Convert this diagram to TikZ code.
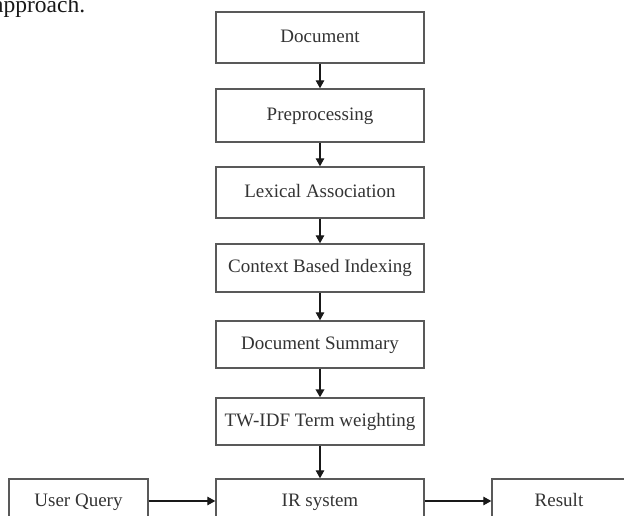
\documentclass[tikz,border=0pt]{standalone}
\usepackage{fontspec}
\setmainfont{Liberation Serif}
\usetikzlibrary{arrows.meta}
\begin{document}
\begin{tikzpicture}[x=1pt,y=-1pt,
  stage/.style={draw=black!65, line width=1.4pt, minimum width=208pt,
    inner sep=0pt, text=black!80, font=\fontsize{19}{21}\selectfont,
    text height=0.95em, text depth=0pt},
  flow/.style={line width=1.3pt, draw=black!90,
    -{Triangle[length=8pt,width=8.5pt]}}]
\useasboundingbox (0,0) rectangle (624,516);
\clip (0,0) rectangle (624,516);

% tail of the preceding sentence
\node[anchor=base west, inner sep=0pt, text=black!90,
  font=\fontsize{23.5}{25}\selectfont] (prev) at (-7,13) {approach.};

% main pipeline
\node[stage, minimum height=51pt] (doc)  at (320,37.5)  {Document};
\node[stage, minimum height=53pt] (pre)  at (320,115.5) {Preprocessing};
\node[stage, minimum height=51pt] (lex)  at (320,192.5) {Lexical Association};
\node[stage, minimum height=48pt] (ctx)  at (320,268)   {Context Based Indexing};
\node[stage, minimum height=47pt] (sum)  at (320,344.5) {Document Summary};
\node[stage, minimum height=47pt] (tw)   at (320,421.5) {TW-IDF Term weighting};
\node[stage, minimum height=46pt] (ir)   at (320,502)   {IR system};
\node[stage, minimum height=46pt, minimum width=139pt] (uq)  at (78.5,502) {User Query};
\node[stage, minimum height=46pt, minimum width=134pt] (res) at (559,502)  {Result};

\draw[flow] (doc) -- (pre);
\draw[flow] (pre) -- (lex);
\draw[flow] (lex) -- (ctx);
\draw[flow] (ctx) -- (sum);
\draw[flow, line width=2.4pt] (sum) -- (tw);
\draw[flow] (tw) -- (ir);
\draw[flow] (uq.east |- 0,501) -- (ir.west |- 0,501);
\draw[flow] (ir.east |- 0,501) -- (res.west |- 0,501);
\end{tikzpicture}
\end{document}
